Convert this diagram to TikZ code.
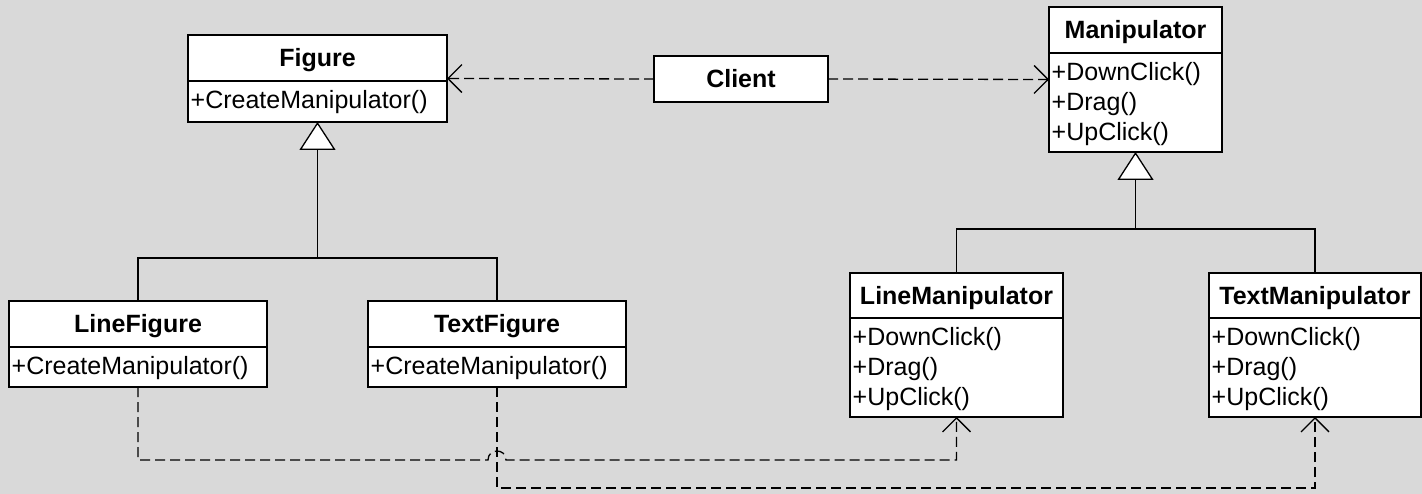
\documentclass[tikz,border=0pt]{standalone}
\usepackage{fontspec}
\setmainfont{Liberation Sans}
\usetikzlibrary{arrows.meta}
\definecolor{canvas}{RGB}{217,217,217}

% one UML class: name, left, top, right, bottom, divider, title
\newcommand{\umlclass}[7]{%
  \node[classbox, minimum width={#4-#2}, minimum height={#5-#3}] (#1) at (#2,#3) {};
  \draw[line width=2pt] (#2,#6) -- (#4,#6);
  \node[classtitle] at ({(#2+#4)/2},{(#3+#6)/2+9}) {#7};
}
% one operation line: left edge, divider, row index, text
\newcommand{\umlop}[4]{%
  \node[classop] at ({#1+2.5},{#2+27.5+30*#3}) {#4};
}

\begin{document}
\begin{tikzpicture}[x=1pt,y=-1pt,
  classbox/.style={draw, line width=2pt, fill=white, anchor=north west,
    inner sep=0pt, outer sep=0pt},
  classtitle/.style={anchor=base, inner sep=0pt, font=\fontsize{25}{30}\selectfont\bfseries},
  classop/.style={anchor=base west, inner sep=0pt, font=\fontsize{25}{30}\selectfont},
  wire/.style={line width=1.3pt},
  dep/.style={wire, dash pattern=on 10pt off 5pt, -{Straight Barb[length=14pt, width=28pt]}},
  gen/.style={wire, -{Triangle[length=28pt, width=36pt, fill=white]}}
]
\fill[canvas] (0,0) rectangle (1422,494);
\useasboundingbox (0,0) rectangle (1422,494);

% classes
\umlclass{fig}{188}{35}{447}{122}{81}{Figure}
\umlop{188}{81}{0}{+CreateManipulator()}

\umlclass{lf}{9}{301}{267}{387}{347}{LineFigure}
\umlop{9}{347}{0}{+CreateManipulator()}

\umlclass{tf}{368}{301}{626}{387}{347}{TextFigure}
\umlop{368}{347}{0}{+CreateManipulator()}

\node[classbox, minimum width=174, minimum height=46] (cl) at (654,56) {};
\node[classtitle] at (741,88) {Client};

\umlclass{man}{1049}{7}{1222}{152}{53}{Manipulator}
\umlop{1049}{53}{0}{+DownClick()}
\umlop{1049}{53}{1}{+Drag()}
\umlop{1049}{53}{2}{+UpClick()}

\umlclass{lm}{850}{273}{1063}{417}{318}{LineManipulator}
\umlop{850}{318}{0}{+DownClick()}
\umlop{850}{318}{1}{+Drag()}
\umlop{850}{318}{2}{+UpClick()}

\umlclass{tm}{1209}{273}{1421}{417}{318}{TextManipulator}
\umlop{1209}{318}{0}{+DownClick()}
\umlop{1209}{318}{1}{+Drag()}
\umlop{1209}{318}{2}{+UpClick()}

% generalisation trees
\coordinate (figbus) at (317.5,258);
\draw[wire] (lf.north) |- (figbus) -| (tf.north);
\draw[gen] (figbus) -- (fig.south);

\coordinate (manbus) at (1135.5,229);
\draw[wire] (lm.north) |- (manbus) -| (tm.north);
\draw[gen] (manbus) -- (man.south);

% client dependencies
\draw[dep] (cl.west) -- (fig.east);
\draw[dep] (cl.east) -- (man.west);

% factory dependencies, the upper one hopping over the lower one
\coordinate (hopL) at (488,460);
\coordinate (hopR) at (506,460);
\coordinate (lowrow) at (0,488);
\draw[dep] (lf.south) |- (hopL) .. controls (488,448) and (506,448) .. (hopR) -| (lm.south);
\draw[dep] (tf.south) -- (tf.south |- lowrow) -| (tm.south);
\end{tikzpicture}
\end{document}
